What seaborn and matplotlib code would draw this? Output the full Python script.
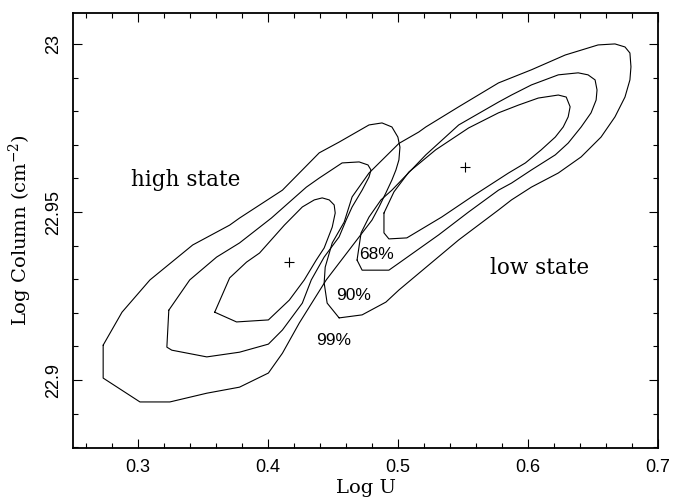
import matplotlib
matplotlib.use("Agg")
import matplotlib.pyplot as plt
from matplotlib.ticker import MultipleLocator, FuncFormatter
import seaborn as sns
import pandas as pd

# ---- data (Log U, Log Column) ----
high68_x = [0.3590, 0.3758, 0.4003, 0.4164, 0.4279, 0.4371, 0.4432, 0.4494, 0.4517, 0.4509,
            0.4471, 0.4417, 0.4356, 0.4264, 0.4126, 0.3935, 0.3835, 0.3705, 0.3590]
high68_y = [22.9202, 22.9173, 22.9179, 22.9238, 22.9298, 22.9357, 22.9393, 22.9455, 22.9497, 22.9521,
            22.9536, 22.9542, 22.9536, 22.9515, 22.9461, 22.9378, 22.9351, 22.9304, 22.9202]

high90_x = [0.3237, 0.3222, 0.3260, 0.3529, 0.3781, 0.4003, 0.4111, 0.4264, 0.4333, 0.4432,
            0.4547, 0.4601, 0.4647, 0.4724, 0.4777, 0.4792, 0.4769, 0.4701, 0.4570, 0.4394,
            0.4295, 0.4026, 0.3781, 0.3605, 0.3398, 0.3237]
high90_y = [22.9208, 22.9098, 22.9089, 22.9069, 22.9083, 22.9107, 22.9149, 22.9229, 22.9298, 22.9366,
            22.9426, 22.9476, 22.9515, 22.9565, 22.9604, 22.9625, 22.9640, 22.9649, 22.9646, 22.9601,
            22.9574, 22.9482, 22.9408, 22.9366, 22.9298, 22.9208]

high99_x = [0.2732, 0.2732, 0.3015, 0.3245, 0.3529, 0.3781, 0.4003, 0.4111, 0.4241, 0.4448,
            0.4624, 0.4800, 0.4854, 0.4907, 0.4953, 0.4984, 0.5007, 0.5015, 0.4999, 0.4953,
            0.4877, 0.4777, 0.4547, 0.4394, 0.4111, 0.3781, 0.3705, 0.3421, 0.3092, 0.2877, 0.2732]
high99_y = [22.9104, 22.9006, 22.8935, 22.8935, 22.8961, 22.8979, 22.9021, 22.9080, 22.9170, 22.9298,
            22.9387, 22.9476, 22.9515, 22.9557, 22.9595, 22.9625, 22.9655, 22.9693, 22.9723, 22.9753,
            22.9765, 22.9759, 22.9708, 22.9676, 22.9565, 22.9482, 22.9461, 22.9402, 22.9298, 22.9202, 22.9104]

low68_x = [0.4892, 0.4892, 0.4930, 0.5068, 0.5336, 0.5566, 0.5850, 0.5980, 0.6102, 0.6210,
           0.6271, 0.6309, 0.6324, 0.6294, 0.6233, 0.6079, 0.5926, 0.5773, 0.5543, 0.5290,
           0.5084, 0.4969, 0.4892]
low68_y = [22.9497, 22.9438, 22.9420, 22.9423, 22.9485, 22.9545, 22.9616, 22.9646, 22.9685, 22.9723,
           22.9753, 22.9783, 22.9813, 22.9842, 22.9848, 22.9839, 22.9818, 22.9795, 22.9750, 22.9685,
           22.9619, 22.9560, 22.9497]

low90_x = [0.4685, 0.4724, 0.4930, 0.5007, 0.5313, 0.5543, 0.5773, 0.5873, 0.6026, 0.6210,
           0.6309, 0.6409, 0.6485, 0.6524, 0.6531, 0.6516, 0.6462, 0.6386, 0.6233, 0.6026,
           0.5873, 0.5773, 0.5467, 0.5214, 0.4953, 0.4869, 0.4777, 0.4716, 0.4685]
low90_y = [22.9357, 22.9327, 22.9327, 22.9348, 22.9432, 22.9500, 22.9565, 22.9586, 22.9625, 22.9670,
           22.9705, 22.9753, 22.9795, 22.9833, 22.9863, 22.9893, 22.9908, 22.9914, 22.9908, 22.9878,
           22.9848, 22.9827, 22.9759, 22.9670, 22.9565, 22.9536, 22.9485, 22.9438, 22.9357]

low99_x = [0.4547, 0.4724, 0.4907, 0.5007, 0.5467, 0.5773, 0.5873, 0.6026, 0.6233, 0.6409,
           0.6562, 0.6669, 0.6746, 0.6784, 0.6792, 0.6784, 0.6746, 0.6669, 0.6539, 0.6286,
           0.6026, 0.5773, 0.5467, 0.5214, 0.5160, 0.5007, 0.4777, 0.4647, 0.4586, 0.4494,
           0.4440, 0.4432, 0.4455, 0.4547]
low99_y = [22.9185, 22.9194, 22.9232, 22.9268, 22.9417, 22.9506, 22.9536, 22.9574, 22.9616, 22.9664,
           22.9723, 22.9783, 22.9842, 22.9893, 22.9932, 22.9973, 22.9991, 23.0000, 22.9997, 22.9967,
           22.9923, 22.9884, 22.9813, 22.9753, 22.9738, 22.9704, 22.9616, 22.9545, 22.9470, 22.9408,
           22.9336, 22.9289, 22.9229, 22.9185]

best_x = [0.4164, 0.5512]          # best-fit points (high, low)
best_y = [22.9351, 22.9634]

state_labels = ["high state", "low state"]
state_x = [0.3368, 0.6087]
state_y = [22.9595, 22.9333]

level_labels = ["68%", "90%", "99%"]
level_x = [0.4838, 0.4662, 0.4501]
level_y = [22.9375, 22.9253, 22.9119]

x_ticks = [0.3, 0.4, 0.5, 0.6, 0.7]
y_ticks = [22.9, 22.95, 23.0]

# ---- build long table ----
contours = {
    "high68": (high68_x, high68_y), "high90": (high90_x, high90_y), "high99": (high99_x, high99_y),
    "low68": (low68_x, low68_y), "low90": (low90_x, low90_y), "low99": (low99_x, low99_y),
}
rows = []
for name, (xs, ys) in contours.items():
    for i, (xv, yv) in enumerate(zip(xs, ys)):
        rows.append({"contour": name, "order": i, "logU": xv, "logN": yv})
df = pd.DataFrame(rows)

sns.set_theme(style="ticks")
plt.rcParams["font.family"] = ["Liberation Sans", "DejaVu Sans"]
plt.rcParams["mathtext.fontset"] = "dejavuserif"

fig = plt.figure(figsize=(6.73, 4.99), dpi=100)
ax = fig.add_axes([73 / 673, 1 - 448 / 499, (658 - 73) / 673, (448 - 13) / 499])

sns.lineplot(data=df, x="logU", y="logN", units="contour", estimator=None, sort=False,
             color="black", linewidth=0.8, ax=ax, legend=False)
sns.scatterplot(x=best_x, y=best_y, marker="+", color="black", s=45, linewidth=0.8, ax=ax)

serif = ["DejaVu Serif"]
for t, xv, yv in zip(state_labels, state_x, state_y):
    ax.text(xv, yv, t, ha="center", va="center", fontsize=15.5, family=serif, color="black")
for t, xv, yv in zip(level_labels, level_x, level_y):
    ax.text(xv, yv, t, ha="center", va="center", fontsize=12.5, color="black")

ax.set_xlim(0.25, 0.7)
ax.set_ylim(22.8798, 23.0092)
ax.set_xticks(x_ticks)
ax.set_yticks(y_ticks)
ax.xaxis.set_minor_locator(MultipleLocator(0.02))
ax.yaxis.set_minor_locator(MultipleLocator(0.01))
ax.xaxis.set_major_formatter(FuncFormatter(lambda v, p: f"{v:g}"))
ax.yaxis.set_major_formatter(FuncFormatter(lambda v, p: f"{v:g}"))

ax.tick_params(which="both", direction="in", top=True, right=True, color="black",
               labelcolor="black", width=0.8)
ax.tick_params(which="major", length=6.5, labelsize=13, pad=8)
ax.tick_params(which="minor", length=3.5)
ax.tick_params(axis="y", which="major", labelrotation=90)
for lab in ax.get_yticklabels():
    lab.set_va("center")

for s in ax.spines.values():
    s.set_linewidth(1.3)
    s.set_color("black")

ax.set_xlabel("Log U", family=serif, fontsize=14, labelpad=2, color="black")
ax.set_ylabel(r"Log Column (cm$^{-2}$)", family=serif, fontsize=14, labelpad=8, color="black")

fig.savefig("out.png", dpi=100, facecolor="white")
